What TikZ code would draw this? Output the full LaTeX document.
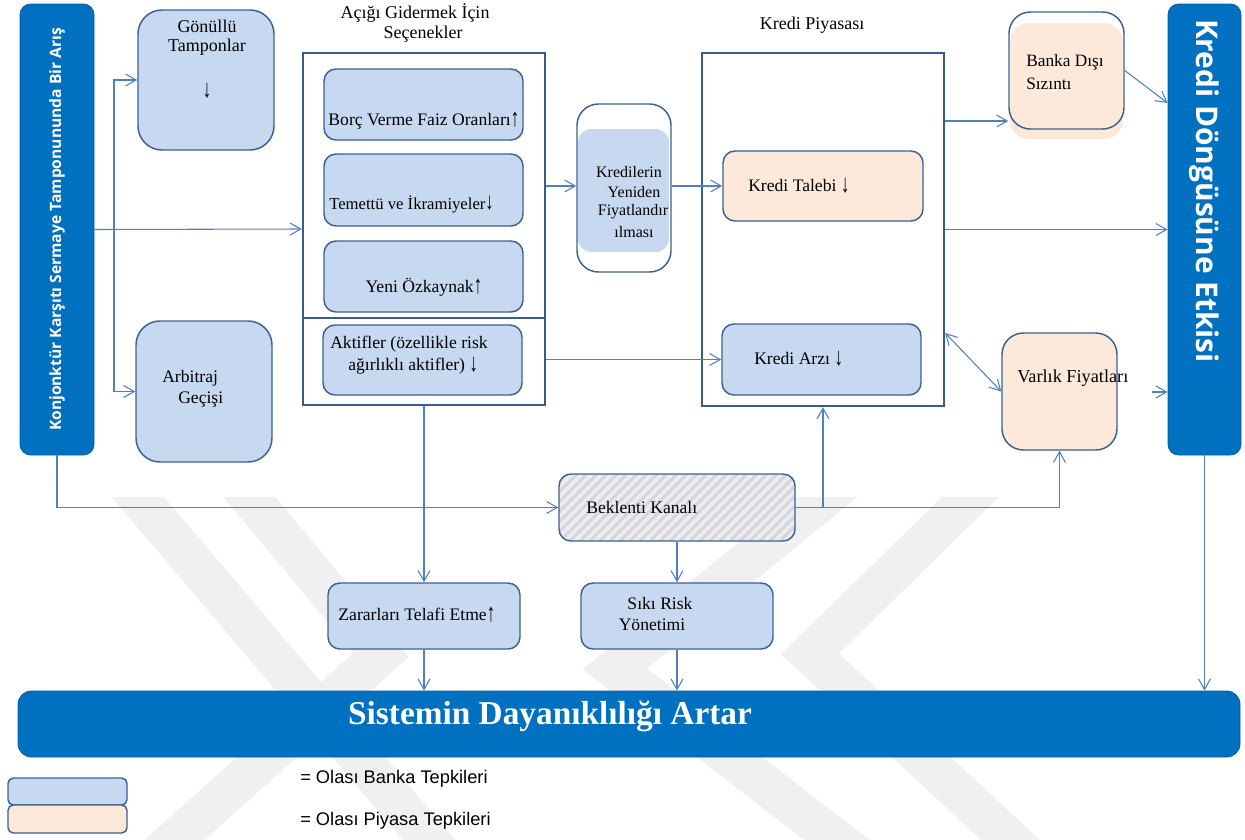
\documentclass[tikz,border=0pt]{standalone}
\usepackage{fontspec}
\setmainfont{Liberation Serif}
\newfontfamily\barfont{Open Sans}
\newfontfamily\legfont{Liberation Sans}
\usetikzlibrary{fit,arrows.meta}
\newcommand{\myup}{\raisebox{-0.05em}{\scalebox{1}[1.45]{↑}}}
\newcommand{\mydown}{\raisebox{-0.05em}{\scalebox{1}[1.45]{↓}}}
\definecolor{barblue}{RGB}{0,112,192}
\definecolor{lblue}{RGB}{198,217,241}
\definecolor{peach}{RGB}{253,233,217}
\definecolor{boxline}{RGB}{60,96,145}
\definecolor{framec}{RGB}{56,93,138}
\definecolor{linec}{RGB}{79,129,189}
\definecolor{wm}{RGB}{240,240,240}
\begin{document}
\begin{tikzpicture}[x=0.75pt,y=-0.75pt,
  box/.style={draw=boxline, line width=1.1pt, inner sep=0pt, rounded corners=9pt},
  bbox/.style={box, fill=lblue},
  pbox/.style={box, fill=peach},
  frame/.style={draw=framec, line width=1.8pt, inner sep=0pt},
  frameline/.style={draw=framec, line width=1.8pt},
  bar/.style={fill=barblue, draw=barblue!85!black, line width=0.6pt, rounded corners=8pt, inner sep=0pt},
  conn/.style={draw=linec, line width=0.8pt},
  arr/.style={conn, -{Straight Barb[length=8pt,width=9pt]}},
  darr/.style={conn, {Straight Barb[length=8pt,width=9pt]}-{Straight Barb[length=8pt,width=9pt]}},
  txt/.style={inner sep=0pt, font=\fontsize{13.2}{15}\selectfont},
  wmband/.style={draw=wm, line width=30pt, line join=miter}
]
\useasboundingbox (0,0) rectangle (1245,839);

% watermark
\begin{scope}
\clip (0,497) rectangle (1245,839);
\draw[wmband] (115,470) -- (463,880);
\draw[wmband] (227,470) -- (381,655) -- (141,870);
\draw[wmband] (859,470) -- (615,669) -- (876,870);
\draw[wmband] (998,470) -- (810,654) -- (1043,870);
\end{scope}

% bars
\node[bar, fit={(20,4)(94,455)}] (lbar) {};
\node[rotate=90, text=white, font=\barfont\bfseries\fontsize{11.7}{13}\selectfont, inner sep=0pt] (lbarT) at (lbar.center) {Konjonktür Karşıtı Sermaye Tamponununda Bir Arış};
\node[bar, fit={(1168,4)(1241,455)}] (rbar) {};
\node[rotate=-90, text=white, font=\barfont\bfseries\fontsize{22.4}{26}\selectfont, inner sep=0pt] (rbarT) at (1204,191) {Kredi Döngüsüne Etkisi};
\node[bar, rounded corners=10pt, fit={(18,691)(1240,757)}] (bbar) {};
\node[text=white, font=\bfseries\fontsize{25}{29}\selectfont, inner sep=0pt] (bbarT) at (550,716) {Sistemin Dayanıklılığı Artar};

% left boxes
\node[bbox, rounded corners=18pt, fit={(138,10)(274,150)}] (gon) {};
\node[txt, font=\fontsize{13.5}{16}\selectfont] (gonT1) at (207,26) {Gönüllü};
\node[txt, font=\fontsize{13.5}{16}\selectfont] (gonT2) at (207,47) {Tamponlar};
\node[txt] (gonT3) at (207,91) {\mydown};
\node[bbox, rounded corners=18pt, fit={(136,321)(272,462)}] (arb) {};
\node[txt, anchor=west] (arbT1) at (162,378) {Arbitraj};
\node[txt, anchor=west] (arbT2) at (178,400) {Geçişi};

% options frame
\node[txt, font=\fontsize{13.5}{16}\selectfont] (t1a) at (415,13) {Açığı Gidermek İçin};
\node[txt, font=\fontsize{13.5}{16}\selectfont] (t1b) at (423,34) {Seçenekler};
\node[frame, fit={(303,53)(545,405)}] (opt) {};
\draw[frameline] (opt.west |- 0,318) -- (opt.east |- 0,318);
\node[bbox, fit={(324,69)(523,140)}] (borc) {};
\node[txt] (borcT) at (424,121) {Borç Verme Faiz Oranları\myup};
\node[bbox, fit={(324,154)(523,226)}] (tem) {};
\node[txt, font=\fontsize{12.5}{14}\selectfont, anchor=west] (temT) at (329,204) {Temettü ve İkramiyeler\mydown};
\node[bbox, fit={(324,241)(523,312)}] (yeni) {};
\node[txt] (yeniT) at (424,287) {Yeni Özkaynak\myup};
\node[bbox, fit={(323,325)(522,395)}] (akt) {};
\node[txt, anchor=west] (aktT1) at (330,344) {Aktifler (özellikle risk};
\node[txt, anchor=west] (aktT2) at (348,366) {ağırlıklı aktifler) \mydown};

% repricing
\node[fill=lblue, rounded corners=10pt, inner sep=0pt, fit={(578,129)(669,252)}] (kfi) {};
\node[box, rounded corners=16pt, fit={(577,104)(671,272)}] (kfo) {};
\node[txt, font=\fontsize{12}{13}\selectfont] (kT1) at (629,172) {Kredilerin};
\node[txt, font=\fontsize{12}{13}\selectfont] (kT2) at (634,192) {Yeniden};
\node[txt, font=\fontsize{12}{13}\selectfont] (kT3) at (633,212) {Fiyatlandır};
\node[txt, font=\fontsize{12}{13}\selectfont] (kT4) at (634,232) {ılması};

% credit market
\node[txt, font=\fontsize{13.5}{16}\selectfont] (t2) at (812,25) {Kredi Piyasası};
\node[frame, fit={(702,53)(944,406)}] (mkt) {};
\node[pbox, fit={(723,151)(923,221)}] (talep) {};
\node[txt, anchor=west] (talepT) at (748,186) {Kredi Talebi \mydown};
\node[bbox, fit={(722,324)(921,395)}] (arz) {};
\node[txt, anchor=west] (arzT) at (754,359) {Kredi Arzı \mydown};

% right boxes
\node[fill=peach, rounded corners=14pt, inner sep=0pt, fit={(1010,23)(1123,139)}] (bdsf) {};
\node[box, rounded corners=16pt, fit={(1009,12)(1124,129)}] (bds) {};
\node[txt, font=\fontsize{13}{15}\selectfont, anchor=west] (bdsT1) at (1026,62) {Banka Dışı};
\node[txt, font=\fontsize{13}{15}\selectfont, anchor=west] (bdsT2) at (1026,84) {Sızıntı};
\node[pbox, rounded corners=16pt, fit={(1002,333)(1117,450)}] (var) {};
\node[txt, font=\fontsize{13.7}{16}\selectfont, anchor=west] (varT) at (1017,378) {Varlık Fiyatları};

% expectations channel
\begin{scope}
\clip[rounded corners=9pt] (559,474) rectangle (795,541);
\fill[peach] (559,474) rectangle (795,541);
\foreach \i in {0,10,...,320} \draw[lblue, line width=2.2pt] (480+\i,541) -- ++(67,-67);
\end{scope}
\node[box, fit={(559,474)(795,541)}] (bek) {};
\node[txt, anchor=west] (bekT) at (586,507) {Beklenti Kanalı};

% lower boxes
\node[bbox, fit={(328,583)(520,649)}] (zar) {};
\node[txt] (zarT) at (417,615) {Zararları Telafi Etme\myup};
\node[bbox, fit={(581,583)(773,649)}] (sik) {};
\node[txt] (sikT1) at (660,603) {Sıkı Risk};
\node[txt] (sikT2) at (652,625) {Yönetimi};

% legend
\node[bbox, rounded corners=4pt, fit={(8,778)(127,805)}] (legb) {};
\node[pbox, rounded corners=4pt, fit={(8,805)(127,833)}] (legp) {};
\node[inner sep=0pt, anchor=west, font=\legfont\fontsize{13.7}{16}\selectfont] (legbT) at (300,779) {= Olası Banka Tepkileri};
\node[inner sep=0pt, anchor=west, font=\legfont\fontsize{13.7}{16}\selectfont] (legpT) at (300,821) {= Olası Piyasa Tepkileri};

% connectors
\coordinate (sp1) at (114,229.5);
\draw[arr] (lbar.east) -- (opt.west);
\draw[arr] (sp1) |- (gon.west);
\draw[arr] (sp1) |- (arb.west);
\draw[arr] (lbar.south) |- (bek.west);
\draw[arr] (opt.east |- talep.west) -- (kfo.west |- talep.west);
\draw[arr] (kfo.east |- talep.west) -- (talep.west);
\draw[arr] (opt.east |- arz.west) -- (arz.west);
\draw[arr] (mkt.east |- 0,121) -- (bds.west |- 0,121);
\draw[arr] (bds.east) -- (rbar.west |- 0,103);
\draw[arr] (mkt.east) -- (rbar.west |- mkt.east);
\draw[darr] (mkt.east |- 0,333) -- (var.west);
\coordinate (stub) at (1152,392);
\draw[arr] (stub) -- (rbar.west |- stub);
\coordinate (j2) at (823,507.5);
\draw[conn] (bek.east) -- (j2);
\draw[arr] (j2) -| (var.south);
\draw[arr] (j2) -- (j2 |- mkt.south);
\draw[arr] (bek.south) -- (bek.south |- sik.north);
\draw[arr] (opt.south -| zar.north) -- (zar.north);
\draw[arr] (zar.south) -- (zar.south |- bbar.north);
\draw[arr] (sik.south) -- (sik.south |- bbar.north);
\draw[arr] (rbar.south) -- (rbar.south |- bbar.north);
\end{tikzpicture}
\end{document}
